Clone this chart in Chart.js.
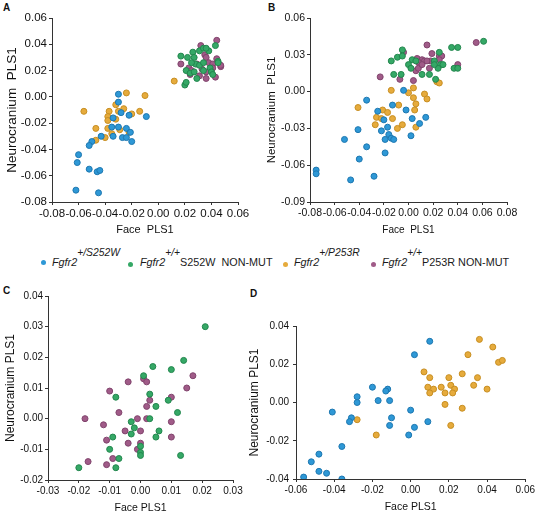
<!DOCTYPE html>
<html>
<head>
<meta charset="utf-8">
<script src="https://cdn.jsdelivr.net/npm/chart.js@4.4.1/dist/chart.umd.min.js"></script>
<style>
    body { margin: 0; width: 537px; height: 516px; background: #fff; position: relative; overflow: hidden;
           font-family: "Liberation Sans", Arial, sans-serif; color: #111; }
    canvas { position: absolute; }
    .lbl { position: absolute; font-weight: bold; font-size: 10px; line-height: 10px; }
    .leg { position: absolute; top: 256px; font-size: 10.8px; line-height: 12px; white-space: nowrap; font-weight: normal; color: #1a1a1a; }
    .leg .sup { position: relative; top: -10px; font-size: 10.3px; }
    .dot { position: absolute; width: 5px; height: 5px; border-radius: 50%; }
</style>
</head>
<body>

<div class="lbl" style="left:3px;top:3px">A</div>
<div class="lbl" style="left:268px;top:3px">B</div>
<div class="lbl" style="left:3px;top:286px">C</div>
<div class="lbl" style="left:250px;top:289px">D</div>

<div class="dot" style="left:41px;top:260px;background:#2e98d6"></div>
<div class="leg" style="left:52px"><i>Fgfr2</i><span class="sup"><i>+/S252W</i></span></div>
<div class="dot" style="left:128px;top:262px;background:#35a866"></div>
<div class="leg" style="left:140px"><i>Fgfr2</i><span class="sup"><i>+/+</i></span>S252W&nbsp; NON-MUT</div>
<div class="dot" style="left:283px;top:262px;background:#e6ab3c"></div>
<div class="leg" style="left:294px"><i>Fgfr2</i><span class="sup"><i>+/P253R</i></span></div>
<div class="dot" style="left:371px;top:262px;background:#a05b88"></div>
<div class="leg" style="left:382px"><i>Fgfr2</i><span class="sup"><i>+/+</i></span>P253R NON-MUT</div>

<script>
// ---- panel A ----
const aTicksX = [-0.08, -0.06, -0.04, -0.02, 0.00, 0.02, 0.04, 0.06]
const aTicksY = [-0.08, -0.06, -0.04, -0.02, 0.00, 0.02, 0.04, 0.06]
const aS252W_x = [-0.030,-0.030,-0.028,-0.022,-0.034,-0.035,-0.030,-0.024,-0.034,-0.043,-0.027,-0.021,-0.024,-0.020,-0.009,-0.050,-0.052,-0.060,-0.061,-0.052,-0.046,-0.044,-0.062,-0.045]
const aS252W_y = [0.002,-0.004,-0.012,-0.014,-0.016,-0.023,-0.023,-0.024,-0.030,-0.030,-0.031,-0.027,-0.031,-0.034,-0.015,-0.034,-0.037,-0.044,-0.050,-0.055,-0.057,-0.056,-0.071,-0.073]
const aS252Wwt_x = [0.017,0.022,0.026,0.027,0.031,0.034,0.038,0.043,0.028,0.021,0.031,0.034,0.039,0.045,0.024,0.027,0.034,0.040,0.020,0.029,0.041,0.045,0.025,0.036,0.021]
const aS252Wwt_y = [0.031,0.030,0.034,0.030,0.035,0.037,0.035,0.039,0.025,0.020,0.024,0.026,0.022,0.027,0.018,0.019,0.020,0.019,0.009,0.014,0.017,0.026,0.026,0.037,0.011]
const aP253R_x = [-0.024,-0.010,-0.032,-0.026,-0.014,-0.037,-0.030,-0.020,-0.056,-0.038,-0.032,-0.038,-0.047,-0.038,-0.035,-0.040,-0.022,-0.047,0.012,-0.029]
const aP253R_y = [0.003,0.001,-0.006,-0.009,-0.011,-0.011,-0.011,-0.013,-0.011,-0.015,-0.017,-0.018,-0.024,-0.024,-0.028,-0.031,-0.027,-0.033,0.012,-0.025]
const aP253Rwt_x = [0.032,0.044,0.035,0.017,0.023,0.025,0.024,0.029,0.033,0.036,0.038,0.041,0.041,0.036,0.036,0.043,0.047,0.044,0.047,0.031]
const aP253Rwt_y = [0.039,0.043,0.032,0.025,0.022,0.020,0.017,0.025,0.021,0.030,0.026,0.025,0.022,0.019,0.014,0.015,0.023,0.029,0.024,0.016]

// ---- panel B ----
const bTicksX = [-0.08, -0.06, -0.04, -0.02, 0.00, 0.02, 0.04, 0.06, 0.08]
const bTicksY = [-0.09, -0.06, -0.03, 0.00, 0.03, 0.06]
const bS252W_x = [-0.075,-0.075,-0.047,-0.028,-0.052,-0.041,-0.040,-0.034,-0.034,-0.025,-0.022,-0.020,-0.017,-0.016,-0.019,-0.019,-0.014,-0.012,-0.013,-0.004,-0.002,0.003,0.009,0.002,0.014]
const bS252W_y = [-0.064,-0.067,-0.072,-0.069,-0.039,-0.031,-0.055,-0.045,-0.007,-0.016,-0.032,-0.023,-0.029,-0.035,-0.039,-0.050,-0.038,-0.039,-0.011,0.001,-0.015,-0.022,-0.026,-0.036,-0.021]
const bS252Wwt_x = [0.061,0.035,0.040,0.037,0.040,0.025,0.026,0.024,0.021,0.021,0.017,0.011,0.022,0.003,0.000,0.002,0.006,-0.005,-0.009,-0.005,-0.014,-0.012,-0.006,0.028]
const bS252Wwt_y = [0.041,0.036,0.036,0.019,0.019,0.032,0.022,0.019,0.025,0.022,0.014,0.014,0.010,0.026,0.022,0.019,0.025,0.034,0.028,0.029,0.025,0.014,0.014,0.022]
const bP253R_x = [-0.041,-0.021,-0.026,-0.022,-0.027,-0.017,-0.013,-0.014,-0.008,-0.009,-0.005,0.000,0.004,0.004,0.006,0.005,0.013,0.015,0.006,0.023,0.025]
const bP253R_y = [-0.013,-0.015,-0.021,-0.022,-0.027,-0.017,-0.022,0.001,-0.011,-0.030,-0.027,-0.001,0.003,-0.005,-0.010,-0.015,-0.002,-0.006,-0.029,0.008,0.007]
const bP253Rwt_x = [0.055,0.040,0.015,-0.004,-0.023,-0.007,0.004,0.007,0.011,0.008,0.013,0.006,0.008,0.011,0.017,0.019,0.025,0.027,0.025,0.018,0.015]
const bP253Rwt_y = [0.040,0.022,0.038,0.032,0.012,0.010,0.009,0.027,0.026,0.024,0.025,0.017,0.019,0.022,0.019,0.031,0.029,0.029,0.026,0.025,0.025]

// ---- panel C (S252W NON-MUT vs P253R NON-MUT) ----
const cTicksX = [-0.03, -0.02, -0.01, 0.00, 0.01, 0.02, 0.03]
const cTicksY = [-0.02, -0.01, 0.00, 0.01, 0.02, 0.03, 0.04]
const cS252Wwt_x = [0.021,0.014,0.004,0.010,0.001,-0.008,0.003,0.005,0.009,0.012,0.003,-0.003,-0.002,-0.003,0.006,0.005,-0.009,-0.010,0.000,0.000,0.000,-0.007,0.013,-0.008,-0.020]
const cS252Wwt_y = [0.030,0.019,0.017,0.016,0.014,0.007,0.008,0.004,0.006,0.002,0.000,-0.001,-0.003,-0.005,-0.004,-0.006,-0.006,-0.010,-0.009,-0.011,-0.012,-0.013,-0.012,-0.016,-0.016]
const cP253Rwt_x = [0.017,0.015,0.010,0.010,0.010,0.001,0.002,-0.004,-0.010,-0.007,0.003,0.002,0.002,-0.001,-0.018,-0.012,-0.005,0.000,-0.004,-0.011,0.000,-0.001,-0.009,-0.011,-0.017]
const cP253Rwt_y = [0.014,0.010,0.007,-0.001,-0.006,0.013,0.012,0.012,0.009,0.002,0.006,0.004,0.000,0.000,0.000,-0.002,-0.004,-0.004,-0.008,-0.007,-0.008,-0.010,-0.013,-0.015,-0.014]

// ---- panel D (S252W vs P253R) ----
const dTicksX = [-0.06, -0.04, -0.02, 0.00, 0.02, 0.04, 0.06]
const dTicksY = [-0.04, -0.02, 0.00, 0.02, 0.04]
const dS252W_x = [0.010,0.002,-0.020,-0.012,-0.013,-0.017,-0.011,-0.028,-0.028,-0.041,-0.031,-0.032,-0.010,-0.011,0.000,0.002,-0.001,0.009,-0.036,-0.048,-0.052,-0.048,-0.044,-0.056,-0.036]
const dS252W_y = [0.032,0.025,0.008,0.007,0.006,0.001,0.001,0.003,0.000,-0.005,-0.008,-0.010,-0.008,-0.012,-0.004,-0.013,-0.017,-0.010,-0.023,-0.027,-0.031,-0.036,-0.037,-0.039,-0.040]
const dP253R_x = [-0.028,-0.018,0.007,0.010,0.009,0.012,0.010,0.020,0.016,0.018,0.021,0.023,0.022,0.018,0.027,0.027,0.021,0.030,0.036,0.035,0.033,0.040,0.043,0.046,0.048]
const dP253R_y = [-0.009,-0.017,0.016,0.013,0.008,0.007,0.005,0.013,0.008,0.005,0.009,0.007,0.005,-0.001,0.015,-0.003,-0.012,0.025,0.033,0.013,0.009,0.007,0.029,0.021,0.022]

// colores de grupo
const COL = {
    mutS: ["#2e98d6", "#1d77b0"],
    wtS:  ["#35a866", "#22864d"],
    mutP: ["#e6ab3c", "#c78e22"],
    wtP:  ["#a05b88", "#80436c"]
}

const FONT = '"Liberation Sans", Arial, sans-serif'

function pts(xs, ys) {
    return xs.map((x, i) => ({ x: x, y: ys[i] }))
}

function serie(xs, ys, col) {
    return {
        data: pts(xs, ys),
        backgroundColor: col[0],
        borderColor: col[1],
        borderWidth: 1,
        pointRadius: 3
    }
}

function eje(ticks, title, st) {
    return {
        type: "linear",
        min: ticks[0],
        max: ticks[ticks.length - 1],
        afterBuildTicks: s => { s.ticks = ticks.map(v => ({ value: v })) },
        ticks: {
            autoSkip: false, maxRotation: 0, padding: st.pad, color: "#111",
            font: { family: FONT, size: st.tick },
            callback: v => v.toFixed(2)
        },
        grid: { drawOnChartArea: false, drawTicks: true, tickLength: 3, color: "#333" },
        border: { display: true, color: "#333", width: 1 },
        title: {
            display: true, text: title, color: "#111",
            font: { family: FONT, size: st.title },
            padding: st.tpad
        }
    }
}

function panel(box, sets, xs, ys) {
    const cv = document.createElement("canvas")
    cv.width = box.w
    cv.height = box.h
    cv.style.left = box.left + "px"
    cv.style.top = box.top + "px"
    document.body.appendChild(cv)

    const x = eje(xs.ticks, xs.text, xs)
    x.afterFit = s => { s.height = box.xh }
    const y = eje(ys.ticks, ys.text, ys)
    y.afterFit = s => { s.width = box.yw }

    return new Chart(cv, {
        type: "scatter",
        data: { datasets: sets },
        options: {
            responsive: false,
            animation: false,
            devicePixelRatio: 1,
            events: [],
            layout: { padding: { top: box.pt, right: box.pr, left: 0, bottom: 0 } },
            plugins: { legend: { display: false }, tooltip: { enabled: false } },
            scales: { x: x, y: y }
        }
    })
}

// A
panel({ left: 0, top: 0, w: 262, h: 240, pt: 18, pr: 24, yw: 52, xh: 38 }, [
    serie(aS252W_x, aS252W_y, COL.mutS),
    serie(aS252Wwt_x, aS252Wwt_y, COL.wtS),
    serie(aP253R_x, aP253R_y, COL.mutP),
    serie(aP253Rwt_x, aP253Rwt_y, COL.wtP)
],
    { ticks: aTicksX, text: "Face  PLS1", tick: 11.5, title: 11, pad: 2, tpad: { top: 0, bottom: 3 } },
    { ticks: aTicksY, text: "Neurocranium  PLS1", tick: 11.5, title: 13.5, pad: 2, tpad: { top: 4, bottom: 0 } })

// B
panel({ left: 262, top: 0, w: 275, h: 240, pt: 18, pr: 30, yw: 48, xh: 38 }, [
    serie(bS252W_x, bS252W_y, COL.mutS),
    serie(bS252Wwt_x, bS252Wwt_y, COL.wtS),
    serie(bP253R_x, bP253R_y, COL.mutP),
    serie(bP253Rwt_x, bP253Rwt_y, COL.wtP)
],
    { ticks: bTicksX, text: "Face  PLS1", tick: 10.5, title: 10, pad: 2, tpad: { top: 0, bottom: 4 } },
    { ticks: bTicksY, text: "Neurocranium  PLS1", tick: 10.5, title: 11.5, pad: 2, tpad: { top: 3, bottom: 0 } })

// C
panel({ left: 0, top: 270, w: 262, h: 246, pt: 26, pr: 29, yw: 48, xh: 36 }, [
    serie(cS252Wwt_x, cS252Wwt_y, COL.wtS),
    serie(cP253Rwt_x, cP253Rwt_y, COL.wtP)
],
    { ticks: cTicksX, text: "Face PLS1", tick: 10, title: 10.5, pad: 2, tpad: { top: 0, bottom: 2 } },
    { ticks: cTicksY, text: "Neurocranium PLS1", tick: 10, title: 12, pad: 2, tpad: { top: 3, bottom: 0 } })

// D
panel({ left: 240, top: 270, w: 297, h: 246, pt: 56, pr: 11, yw: 56, xh: 37 }, [
    serie(dS252W_x, dS252W_y, COL.mutS),
    serie(dP253R_x, dP253R_y, COL.mutP)
],
    { ticks: dTicksX, text: "Face PLS1", tick: 10, title: 10.5, pad: 2, tpad: { top: 0, bottom: 3 } },
    { ticks: dTicksY, text: "Neurocranium PLS1", tick: 10, title: 12, pad: 4, tpad: { top: 7, bottom: 0 } })
</script>
</body>
</html>
